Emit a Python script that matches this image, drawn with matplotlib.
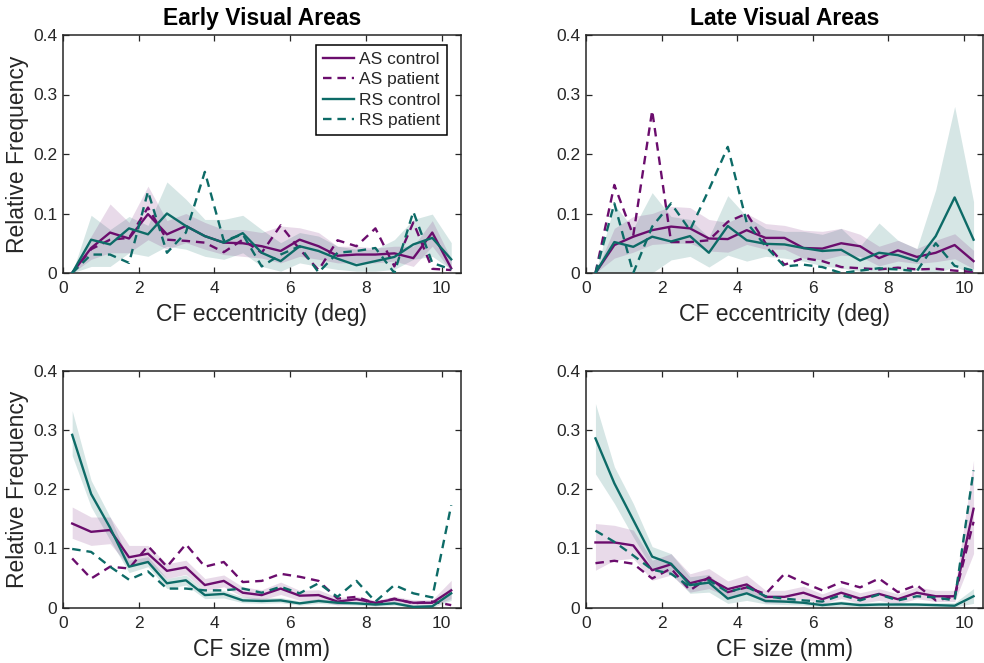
import matplotlib
matplotlib.use("Agg")
import matplotlib.pyplot as plt

plt.rcParams['font.family'] = ['Liberation Sans', 'DejaVu Sans']

# ---------------- data ----------------
bins = [0.25, 0.75, 1.25, 1.75, 2.25, 2.75, 3.25, 3.75, 4.25, 4.75, 5.25,
        5.75, 6.25, 6.75, 7.25, 7.75, 8.25, 8.75, 9.25, 9.75, 10.25]

titles = ["Early Visual Areas", "Late Visual Areas"]
xlabels = ["CF eccentricity (deg)", "CF size (mm)"]
ylabel = "Relative Frequency"
legend_labels = ["AS control", "AS patient", "RS control", "RS patient"]
yticks = [0, 0.1, 0.2, 0.3, 0.4]
xticks = [0, 2, 4, 6, 8, 10]

# Early visual areas, CF eccentricity
ee_as_ctrl = [0, 0.042, 0.068, 0.058, 0.099, 0.065, 0.079, 0.062, 0.051, 0.050, 0.045,
              0.037, 0.056, 0.045, 0.029, 0.031, 0.031, 0.033, 0.025, 0.068, 0.008]
ee_as_up = [0, 0.062, 0.116, 0.085, 0.146, 0.088, 0.100, 0.085, 0.073, 0.073, 0.068,
            0.079, 0.076, 0.068, 0.045, 0.045, 0.042, 0.045, 0.045, 0.088, 0.023]
ee_as_lo = [0, 0.023, 0.034, 0.034, 0.056, 0.040, 0.051, 0.040, 0.031, 0.028, 0.025,
            0.017, 0.028, 0.023, 0.017, 0.017, 0.017, 0.020, 0.011, 0.045, 0.003]
ee_as_pat = [0, 0.040, 0.056, 0.059, 0.110, 0.056, 0.054, 0.051, 0.035, 0.056, 0.034,
             0.080, 0.040, 0.005, 0.055, 0.045, 0.075, 0.011, 0.085, 0.007, 0.005]
ee_rs_ctrl = [0, 0.056, 0.048, 0.075, 0.065, 0.100, 0.079, 0.062, 0.051, 0.067, 0.034,
              0.020, 0.045, 0.037, 0.024, 0.013, 0.020, 0.027, 0.048, 0.059, 0.023]
ee_rs_up = [0, 0.097, 0.073, 0.095, 0.080, 0.153, 0.124, 0.090, 0.090, 0.097, 0.073,
            0.051, 0.068, 0.062, 0.045, 0.040, 0.040, 0.056, 0.090, 0.099, 0.051]
ee_rs_lo = [0, 0.011, 0.011, 0.034, 0.028, 0.045, 0.040, 0.028, 0.023, 0.034, 0.011,
            0.003, 0.017, 0.011, 0.006, 0.003, 0.003, 0.006, 0.023, 0.028, 0.006]
ee_rs_pat = [0, 0.031, 0.031, 0.017, 0.137, 0.034, 0.068, 0.170, 0.054, 0.065, 0.011,
             0.031, 0.045, 0.001, 0.034, 0.037, 0.042, 0.000, 0.103, 0.017, 0.006]

# Late visual areas, CF eccentricity
le_as_ctrl = [0, 0.047, 0.061, 0.072, 0.078, 0.075, 0.058, 0.057, 0.072, 0.059, 0.059,
              0.042, 0.041, 0.050, 0.045, 0.025, 0.038, 0.027, 0.034, 0.047, 0.020]
le_as_up = [0, 0.075, 0.095, 0.100, 0.112, 0.110, 0.090, 0.085, 0.100, 0.083, 0.080,
            0.072, 0.070, 0.075, 0.065, 0.045, 0.055, 0.041, 0.055, 0.066, 0.038]
le_as_lo = [0, 0.025, 0.035, 0.048, 0.050, 0.050, 0.037, 0.035, 0.048, 0.040, 0.040,
            0.025, 0.022, 0.030, 0.028, 0.012, 0.020, 0.016, 0.019, 0.024, 0.007]
le_as_pat = [0, 0.148, 0.063, 0.273, 0.052, 0.052, 0.055, 0.086, 0.100, 0.050, 0.014,
             0.025, 0.020, 0.010, 0.008, 0.006, 0.009, 0.006, 0.007, 0.004, 0.002]
le_rs_ctrl = [0, 0.052, 0.044, 0.061, 0.053, 0.062, 0.034, 0.079, 0.055, 0.049, 0.048,
              0.042, 0.037, 0.039, 0.021, 0.034, 0.030, 0.020, 0.062, 0.127, 0.056]
le_rs_up = [0, 0.115, 0.075, 0.135, 0.095, 0.090, 0.060, 0.130, 0.095, 0.075, 0.070,
            0.070, 0.065, 0.075, 0.045, 0.084, 0.055, 0.041, 0.140, 0.280, 0.120]
le_rs_lo = [0, 0.000, 0.000, 0.000, 0.022, 0.028, 0.010, 0.030, 0.020, 0.028, 0.025,
            0.020, 0.012, 0.008, 0.003, 0.003, 0.005, 0.005, 0.000, 0.010, 0.000]
le_rs_pat = [0, 0.117, 0.000, 0.078, 0.117, 0.072, 0.140, 0.212, 0.085, 0.045, 0.011,
             0.014, 0.010, 0.000, 0.004, 0.008, 0.006, 0.003, 0.050, 0.012, 0.004]

# Early visual areas, CF size
es_as_ctrl = [0.142, 0.128, 0.131, 0.085, 0.091, 0.062, 0.068, 0.038, 0.045, 0.025, 0.021,
              0.032, 0.020, 0.021, 0.010, 0.014, 0.008, 0.014, 0.008, 0.008, 0.029]
es_as_up = [0.170, 0.153, 0.153, 0.105, 0.105, 0.074, 0.080, 0.049, 0.055, 0.035, 0.030,
            0.043, 0.029, 0.030, 0.017, 0.019, 0.012, 0.019, 0.013, 0.013, 0.046]
es_as_lo = [0.117, 0.105, 0.108, 0.069, 0.077, 0.049, 0.056, 0.028, 0.035, 0.018, 0.013,
            0.022, 0.012, 0.012, 0.004, 0.008, 0.003, 0.008, 0.003, 0.003, 0.015]
es_as_pat = [0.083, 0.049, 0.069, 0.066, 0.104, 0.069, 0.107, 0.069, 0.077, 0.043, 0.045,
             0.057, 0.052, 0.045, 0.015, 0.018, 0.007, 0.015, 0.007, 0.010, 0.004]
es_rs_ctrl = [0.292, 0.192, 0.135, 0.069, 0.077, 0.041, 0.046, 0.021, 0.023, 0.012, 0.011,
              0.012, 0.007, 0.011, 0.008, 0.007, 0.005, 0.007, 0.001, 0.002, 0.024]
es_rs_up = [0.333, 0.215, 0.153, 0.080, 0.086, 0.049, 0.055, 0.028, 0.029, 0.018, 0.016,
            0.017, 0.011, 0.015, 0.011, 0.010, 0.008, 0.011, 0.004, 0.005, 0.035]
es_rs_lo = [0.257, 0.170, 0.114, 0.059, 0.069, 0.032, 0.038, 0.015, 0.016, 0.008, 0.007,
            0.008, 0.004, 0.007, 0.005, 0.004, 0.002, 0.004, 0.000, 0.000, 0.012]
es_rs_pat = [0.099, 0.094, 0.069, 0.047, 0.061, 0.032, 0.032, 0.029, 0.029, 0.032, 0.025,
             0.035, 0.024, 0.041, 0.018, 0.045, 0.010, 0.038, 0.024, 0.017, 0.173]

# Late visual areas, CF size
ls_as_ctrl = [0.110, 0.110, 0.105, 0.063, 0.073, 0.041, 0.049, 0.031, 0.039, 0.018, 0.018,
              0.025, 0.014, 0.025, 0.015, 0.023, 0.014, 0.025, 0.019, 0.019, 0.167]
ls_as_up = [0.142, 0.139, 0.131, 0.080, 0.091, 0.057, 0.066, 0.045, 0.055, 0.029, 0.029,
            0.036, 0.023, 0.035, 0.025, 0.032, 0.023, 0.035, 0.029, 0.029, 0.249]
ls_as_lo = [0.063, 0.080, 0.083, 0.046, 0.055, 0.026, 0.032, 0.018, 0.025, 0.008, 0.008,
            0.015, 0.006, 0.015, 0.007, 0.012, 0.006, 0.015, 0.010, 0.010, 0.091]
ls_as_pat = [0.075, 0.079, 0.074, 0.049, 0.066, 0.029, 0.051, 0.026, 0.034, 0.023, 0.057,
             0.042, 0.029, 0.043, 0.034, 0.049, 0.026, 0.038, 0.012, 0.018, 0.145]
ls_rs_ctrl = [0.286, 0.210, 0.148, 0.086, 0.074, 0.038, 0.042, 0.015, 0.024, 0.011, 0.010,
              0.008, 0.004, 0.007, 0.004, 0.005, 0.005, 0.005, 0.004, 0.003, 0.019]
ls_rs_up = [0.345, 0.238, 0.176, 0.103, 0.091, 0.052, 0.056, 0.025, 0.035, 0.017, 0.014,
            0.012, 0.008, 0.011, 0.008, 0.009, 0.009, 0.008, 0.008, 0.008, 0.032]
ls_rs_lo = [0.226, 0.176, 0.119, 0.066, 0.057, 0.024, 0.026, 0.007, 0.012, 0.006, 0.005,
            0.004, 0.001, 0.002, 0.001, 0.001, 0.001, 0.001, 0.001, 0.001, 0.007]
ls_rs_pat = [0.130, 0.111, 0.088, 0.064, 0.057, 0.035, 0.046, 0.026, 0.035, 0.019, 0.015,
             0.012, 0.010, 0.021, 0.012, 0.022, 0.012, 0.019, 0.017, 0.012, 0.232]

panels = [
    (ee_as_ctrl, ee_as_up, ee_as_lo, ee_as_pat, ee_rs_ctrl, ee_rs_up, ee_rs_lo, ee_rs_pat),
    (le_as_ctrl, le_as_up, le_as_lo, le_as_pat, le_rs_ctrl, le_rs_up, le_rs_lo, le_rs_pat),
    (es_as_ctrl, es_as_up, es_as_lo, es_as_pat, es_rs_ctrl, es_rs_up, es_rs_lo, es_rs_pat),
    (ls_as_ctrl, ls_as_up, ls_as_lo, ls_as_pat, ls_rs_ctrl, ls_rs_up, ls_rs_lo, ls_rs_pat),
]

# ---------------- style ----------------
PURPLE = '#6b0d6d'
TEAL = '#0d6b67'
TXT = '#262626'
LW = 1.7
DASH = (3.6, 2.5)

W, H = 984, 663
fig = plt.figure(figsize=(W / 100, H / 100), dpi=100)

lefts = [62.7, 586.0]
widths = [398.0, 397.0]
tops = [35.0, 371.0]
heights = [238.0, 236.5]

axes = []
for r in range(2):
    for c in range(2):
        ax = fig.add_axes([lefts[c] / W, 1 - (tops[r] + heights[r]) / H,
                           widths[c] / W, heights[r] / H])
        axes.append((r, c, ax))

for idx, (r, c, ax) in enumerate(axes):
    as_c, as_u, as_l, as_p, rs_c, rs_u, rs_l, rs_p = panels[idx]
    ax.fill_between(bins, rs_l, rs_u, color=TEAL, alpha=0.17, lw=0, zorder=1)
    ax.fill_between(bins, as_l, as_u, color=PURPLE, alpha=0.15, lw=0, zorder=1)
    ax.plot(bins, as_c, color=PURPLE, lw=LW, label=legend_labels[0], zorder=3)
    ax.plot(bins, as_p, color=PURPLE, lw=LW, ls=(0, DASH), label=legend_labels[1], zorder=3)
    ax.plot(bins, rs_c, color=TEAL, lw=LW, label=legend_labels[2], zorder=3)
    ax.plot(bins, rs_p, color=TEAL, lw=LW, ls=(0, DASH), label=legend_labels[3], zorder=3)

    ax.set_xlim(0, 10.5)
    ax.set_ylim(0, 0.4)
    ax.set_xticks(xticks)
    ax.set_yticks(yticks)
    ax.set_xticklabels([str(t) for t in xticks])
    ax.set_yticklabels(['0', '0.1', '0.2', '0.3', '0.4'])
    ax.tick_params(direction='in', length=4.5, width=0.9, top=True, right=True,
                   labelsize=12.5, colors=TXT)
    ax.tick_params(axis='x', pad=6)
    ax.tick_params(axis='y', pad=4)
    for s in ax.spines.values():
        s.set_linewidth(1.1)
        s.set_color(TXT)
    ax.set_xlabel(xlabels[r], fontsize=16.5, color=TXT, labelpad=5)
    if c == 0:
        ax.set_ylabel(ylabel, fontsize=16.5, color=TXT, labelpad=3)
    if r == 0:
        ax.set_title(titles[c], fontsize=16.5, fontweight='bold', color='black', pad=7)
    if idx == 0:
        leg = ax.legend(loc='upper right', bbox_to_anchor=(0.966, 0.958),
                        borderaxespad=0, fontsize=12.5, handlelength=1.75,
                        handletextpad=0.3, labelspacing=0.3, borderpad=0.4,
                        fancybox=False, framealpha=1, edgecolor='black')
        leg.get_frame().set_linewidth(1.1)
        for t in leg.get_texts():
            t.set_color(TXT)

fig.savefig('out.png', dpi=100)
